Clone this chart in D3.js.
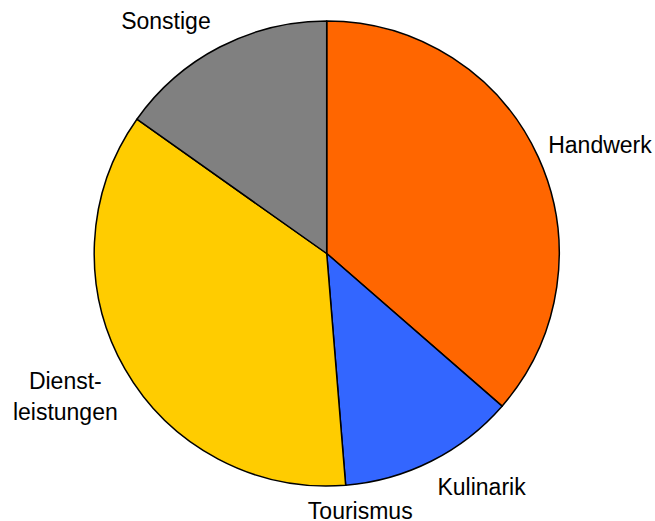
<!DOCTYPE html>
<html>
<head>
<meta charset="utf-8">
<script src="https://cdn.jsdelivr.net/npm/d3@7"></script>
<style>
  body { margin: 0; background: #fff; }
  text { font-family: "Liberation Sans", Arial, sans-serif; fill: #000; }
</style>
</head>
<body>
<script>
// slices, clockwise from 12 o'clock (percent)
var categories = ['Handwerk', 'Kulinarik', 'Tourismus', 'Dienstleistungen', 'Sonstige'];
var values = [36.4, 12.3, 0, 36.1, 15.2];
var labels = [['Handwerk'], ['Kulinarik'], ['Tourismus'], ['Dienst-', 'leistungen'], ['Sonstige']];
var colors = ['#ff6600', '#3366ff', '#999999', '#ffcc00', '#808080'];

// small hand nudges so labels sit where the original put them
var nudge = {
  'Handwerk': [0, 0],
  'Kulinarik': [23, 0],
  'Tourismus': [9, -3],
  'Dienstleistungen': [0, 6],
  'Sonstige': [-26, 0]
};

var width = 655, height = 521;
var cx = 326.7, cy = 253.5, radius = 232.5;
var fontSize = 23, lineHeight = 31;

var svg = d3.select('body').append('svg')
  .attr('width', width)
  .attr('height', height);

var data = categories.map(function(c, i) {
  return { name: c, value: values[i], label: labels[i], color: colors[i] };
});

var pie = d3.pie()
  .sort(null)
  .value(function(d) { return d.value; });

var arc = d3.arc()
  .innerRadius(0)
  .outerRadius(radius);

var g = svg.append('g')
  .attr('transform', 'translate(' + cx + ',' + cy + ')');

var arcs = pie(data);

g.selectAll('path.slice')
  .data(arcs.filter(function(d) { return d.data.value > 0; }))
  .enter().append('path')
    .attr('class', 'slice')
    .attr('d', arc)
    .attr('fill', function(d) { return d.data.color; })
    .attr('stroke', '#000')
    .attr('stroke-width', 1.5)
    .attr('stroke-linejoin', 'round');

var gap = 16;
var lbl = g.selectAll('text.label')
  .data(arcs)
  .enter().append('text')
    .attr('class', 'label')
    .attr('text-anchor', 'middle')
    .style('font-size', fontSize + 'px');

lbl.each(function(d) {
  var t = d3.select(this);
  d.data.label.forEach(function(line, i) {
    t.append('tspan')
      .attr('x', 0)
      .attr('dy', i === 0 ? 0 : lineHeight)
      .text(line);
  });
  var bb = this.getBBox();
  var a = (d.startAngle + d.endAngle) / 2;
  var s = Math.sin(a), c = -Math.cos(a);
  var px = (radius + gap) * s, py = (radius + gap) * c;
  var bx = px + bb.width / 2 * s;
  var by = py + bb.height / 2 * c;
  var n = nudge[d.data.name];
  // move bbox centre to (bx, by)
  var ox = bx - (bb.x + bb.width / 2) + n[0];
  var oy = by - (bb.y + bb.height / 2) + n[1];
  t.attr('transform', 'translate(' + ox + ',' + oy + ')');
});
</script>
</body>
</html>
